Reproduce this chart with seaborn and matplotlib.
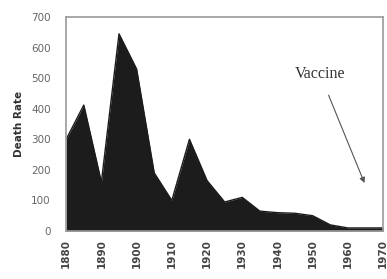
import matplotlib
matplotlib.use("Agg")
import matplotlib.pyplot as plt
import seaborn as sns
import pandas as pd

years = [1880, 1885, 1890, 1895, 1900, 1905, 1910, 1915, 1920, 1925,
         1930, 1935, 1940, 1945, 1950, 1955, 1960, 1965, 1970]
death_rate = [300, 412, 160, 645, 530, 190, 100, 300, 165, 95,
              110, 65, 60, 58, 50, 20, 10, 10, 10]
xtick_labels = ["1880", "1890", "1900", "1910", "1920", "1930", "1940", "1950", "1960", "1970"]
ytick_values = [0, 100, 200, 300, 400, 500, 600, 700]

df = pd.DataFrame({"year": years, "rate": death_rate})

sns.set_style("white")
fig, ax = plt.subplots(figsize=(3.87, 2.79), dpi=100)
fig.subplots_adjust(left=0.171, right=0.99, top=0.939, bottom=0.172)

sns.lineplot(data=df, x="year", y="rate", ax=ax, color="#1c1c1c", linewidth=1.0)
ax.fill_between(df["year"], 0, df["rate"], color="#1c1c1c", linewidth=0)

ax.set_xlim(1880, 1970)
ax.set_ylim(0, 700)
ax.set_xticks([int(t) for t in xtick_labels])
ax.set_xticklabels(xtick_labels, rotation=90, fontsize=7.5, color="#444444", fontweight="bold")
ax.set_yticks(ytick_values)
ax.set_yticklabels([str(v) for v in ytick_values], fontsize=7.5, color="#666666")
ax.tick_params(axis="x", length=3, direction="in", color="#555555", pad=6)
ax.tick_params(axis="y", length=0, pad=11)
ax.set_xlabel("")
ax.set_ylabel("Death Rate", fontsize=7.5, fontweight="bold", color="#333333", labelpad=5)

for s in ["top", "right", "left", "bottom"]:
    ax.spines[s].set_color("#9a9a9a")
    ax.spines[s].set_linewidth(1.2)

ax.annotate("Vaccine", xy=(1964.7, 157), xytext=(1952.0, 515),
            fontsize=11.5, family="Liberation Serif", color="#333333",
            ha="center", va="center",
            arrowprops=dict(arrowstyle="-|>", color="#555555", lw=0.8,
                            shrinkA=8, shrinkB=0, mutation_scale=8))

fig.savefig("out.png", dpi=100)
